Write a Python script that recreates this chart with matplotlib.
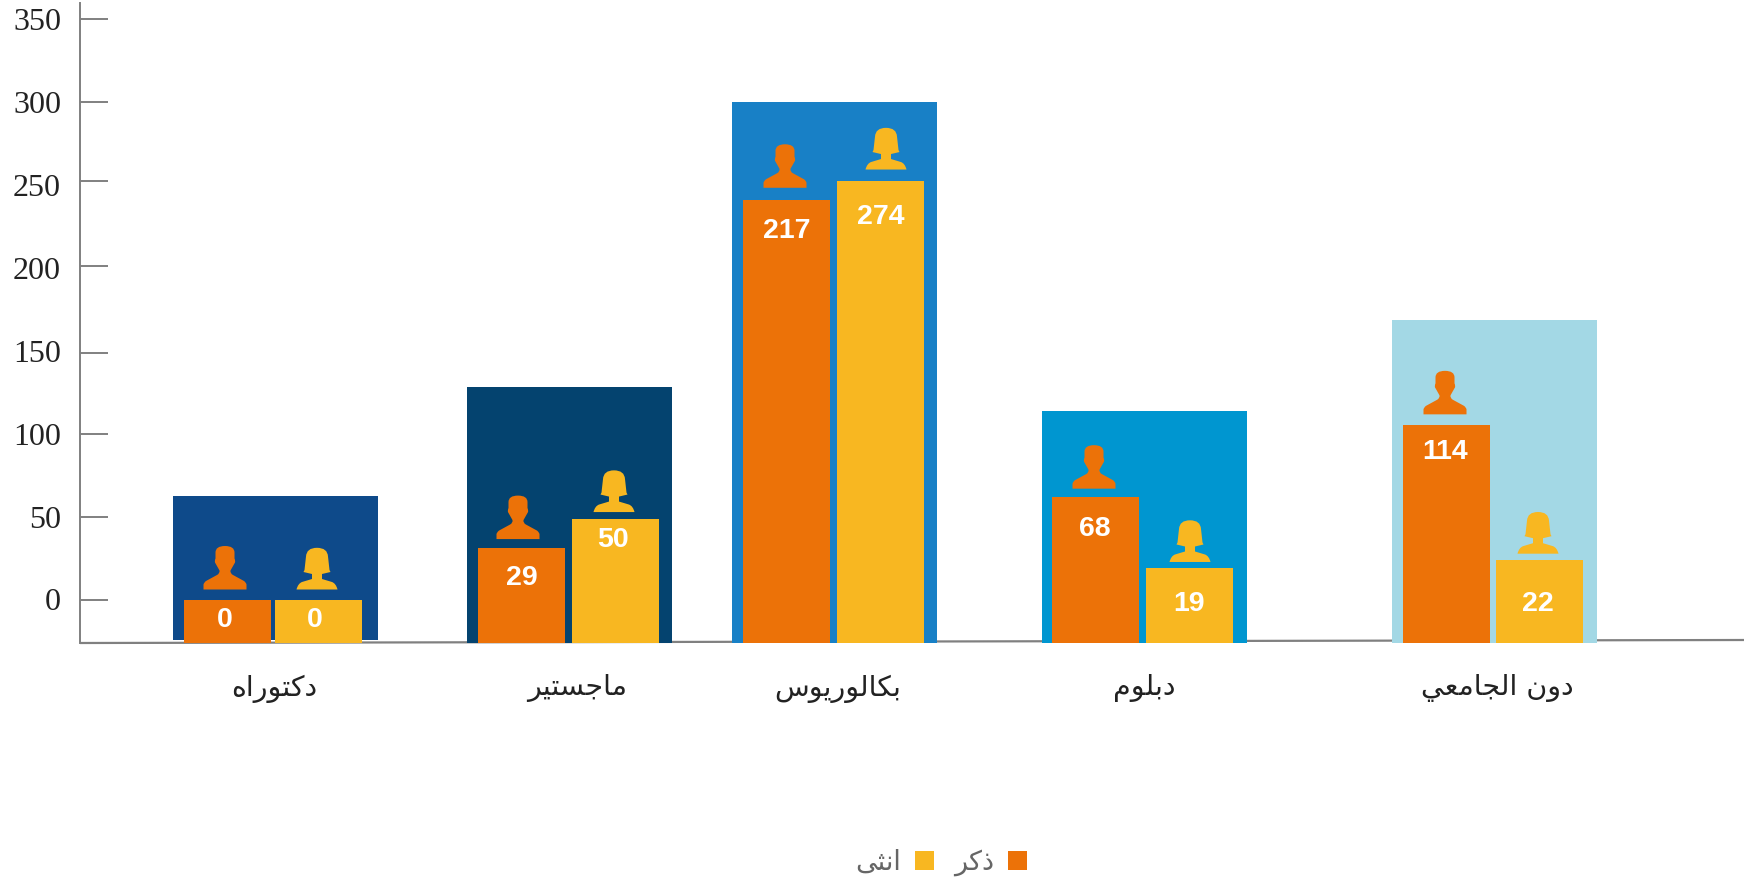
import matplotlib
matplotlib.use("Agg")
import matplotlib.pyplot as plt
from matplotlib.path import Path
from matplotlib.patches import PathPatch

# ---------- data ----------
categories = ["دكتوراه", "ماجستير", "بكالوريوس", "دبلوم", "دون الجامعي"]
totals = [62.5, 128, 300, 113.5, 168.5]     # background bars, read on the axis
male_heights = [0, 31, 241, 62, 105]        # orange bars, read on the axis
female_heights = [0, 48.5, 252.6, 19, 24]   # yellow bars, read on the axis
male_labels = ["0", "29", "217", "68", "114"]
female_labels = ["0", "50", "274", "19", "22"]
tick_labels = ["0", "50", "100", "150", "200", "250", "300", "350"]
tick_label_values = [0, 50, 100, 150, 200, 250, 300, 350]
series_names = ["ذكر", "انثى"]

# ---------- layout ----------
W, H = 1744, 881
PX = 1.6586                       # pixels per axis unit
Y0_PX = 599.5                     # pixel row of value 0
BASE_PX = 642.5
TOP_PX = 3


def val(py):
    return (Y0_PX - py) / PX


bg_left = [173, 467, 732, 1042, 1392]
bg_width = 205
bg_bottom_px = [640, 642.5, 642.5, 642.5, 642.5]
male_left = [184, 478, 743, 1052, 1403]
female_left = [275, 572, 837, 1146, 1496]
bar_width = 87
tick_marks = [0, 49.5, 99.5, 148.5, 201, 252.5, 300, 350]
cat_x = [274, 577, 838, 1144, 1497]
male_val_y = [620, 578, 231, 529, 452]
female_val_y = [620, 540, 217, 604, 604]
male_lab_x = [225, 522, 787, 1095, 1445]
female_lab_x = [315, 613, 881, 1189, 1538]
male_icon_x = [225, 518, 785, 1094, 1445]
female_icon_x = [317, 614, 886, 1190, 1538]
male_icon_gap = [10, 9, 12, 8, 11]
female_icon_gap = [10, 7, 11, 6, 6]

COL_BG = ["#0E4A8A", "#04436F", "#1880C6", "#0096D0", "#A3D8E5"]
COL_M = "#EC7208"
COL_F = "#F8B721"
COL_AXIS = "#808080"

# ---------- Arabic shaping (matplotlib has no bidi / joining) ----------
FORMS = {
    "ا": (0xFE8D, 0xFE8E), "ب": (0xFE8F, 0xFE90, 0xFE91, 0xFE92),
    "ت": (0xFE95, 0xFE96, 0xFE97, 0xFE98), "ث": (0xFE99, 0xFE9A, 0xFE9B, 0xFE9C),
    "ج": (0xFE9D, 0xFE9E, 0xFE9F, 0xFEA0), "د": (0xFEA9, 0xFEAA),
    "ذ": (0xFEAB, 0xFEAC), "ر": (0xFEAD, 0xFEAE),
    "س": (0xFEB1, 0xFEB2, 0xFEB3, 0xFEB4), "ع": (0xFEC9, 0xFECA, 0xFECB, 0xFECC),
    "ك": (0xFED9, 0xFEDA, 0xFEDB, 0xFEDC), "ل": (0xFEDD, 0xFEDE, 0xFEDF, 0xFEE0),
    "م": (0xFEE1, 0xFEE2, 0xFEE3, 0xFEE4), "ن": (0xFEE5, 0xFEE6, 0xFEE7, 0xFEE8),
    "ه": (0xFEE9, 0xFEEA, 0xFEEB, 0xFEEC), "و": (0xFEED, 0xFEEE),
    "ى": (0xFEEF, 0xFEF0), "ي": (0xFEF1, 0xFEF2, 0xFEF3, 0xFEF4),
}


def shape(text):
    out = []
    for i, ch in enumerate(text):
        f = FORMS.get(ch)
        if f is None:
            out.append(ch)
            continue
        prev = FORMS.get(text[i - 1]) if i > 0 else None
        nxt = FORMS.get(text[i + 1]) if i + 1 < len(text) else None
        join_prev = prev is not None and len(prev) == 4
        join_next = nxt is not None and len(f) == 4
        if join_prev and join_next:
            idx = 3
        elif join_prev:
            idx = 1
        elif join_next:
            idx = 2
        else:
            idx = 0
        out.append(chr(f[idx]))
    return "".join(reversed(out))


# ---------- icons: (dx px, dy px) from bottom centre ----------
M, L, C = Path.MOVETO, Path.LINETO, Path.CURVE3
MALE = [((-21.5, 0), M), ((-21.5, 5), L), ((-21, 7), C), ((-19, 8.5), C), ((-8, 14.5), L),
        ((-5, 16), C), ((-5.5, 19), C), ((-10, 27), L), ((-10.5, 29), C), ((-9.5, 31), C),
        ((-9.5, 37), L), ((-9.5, 43.5), C), ((0, 43.5), C), ((9.5, 43.5), C), ((9.5, 37), C),
        ((9.5, 31), L), ((10.5, 29), C), ((10, 27), C), ((5.5, 19), L), ((5, 16), C),
        ((8, 14.5), C), ((19, 8.5), L), ((21, 7), C), ((21.5, 5), C), ((21.5, 0), L),
        ((-21.5, 0), Path.CLOSEPOLY)]
FEMALE = [((-20.5, 0), M), ((-19, 6), C), ((-15, 7.5), C), ((-5, 10.5), L), ((-5, 15.5), L),
          ((-13.5, 17.5), L), ((-12.5, 19.5), L), ((-11, 33), L), ((-10.5, 41.7), C),
          ((0, 41.7), C), ((10.5, 41.7), C), ((11, 33), C), ((12.5, 19.5), L),
          ((13.5, 17.5), L), ((5, 15.5), L), ((5, 10.5), L), ((15, 7.5), L), ((19, 6), C),
          ((20.5, 0), C), ((-20.5, 0), Path.CLOSEPOLY)]


def icon(ax, shape_def, cx, bottom, color):
    verts = [(cx + p[0], bottom + p[1] / PX) for p, _ in shape_def]
    codes = [c for _, c in shape_def]
    ax.add_patch(PathPatch(Path(verts, codes), facecolor=color, edgecolor="none", zorder=5))


# ---------- figure ----------
fig = plt.figure(figsize=(W / 100, H / 100), dpi=100, facecolor="white")
ax = fig.add_axes([80 / W, (H - BASE_PX) / H, (W - 80) / W, (BASE_PX - TOP_PX) / H])
ax.set_xlim(80, W)
ylow = val(BASE_PX)
ax.set_ylim(ylow, val(TOP_PX))

for spine in ("top", "right", "bottom"):
    ax.spines[spine].set_visible(False)
ax.spines["left"].set_color(COL_AXIS)
ax.spines["left"].set_linewidth(1.4)

# sloped baseline
ax.plot([80, W], [val(643), val(640)], color=COL_AXIS, lw=1.6, clip_on=False, zorder=1,
        solid_capstyle="butt")

bg_bottoms = [val(p) for p in bg_bottom_px]
ax.bar(bg_left, [t - b for t, b in zip(totals, bg_bottoms)], bg_width, bottom=bg_bottoms,
       align="edge", color=COL_BG, zorder=2)
h_m = ax.bar(male_left, [v - ylow for v in male_heights], bar_width, bottom=ylow,
             align="edge", color=COL_M, zorder=3, label=shape(series_names[0]))
h_f = ax.bar(female_left, [v - ylow for v in female_heights], bar_width, bottom=ylow,
             align="edge", color=COL_F, zorder=3, label=shape(series_names[1]))

for i in range(len(categories)):
    icon(ax, MALE, male_icon_x[i], male_heights[i] + male_icon_gap[i] / PX, COL_M)
    icon(ax, FEMALE, female_icon_x[i], female_heights[i] + female_icon_gap[i] / PX, COL_F)
    ax.text(male_lab_x[i], val(male_val_y[i]), male_labels[i], color="white", ha="center",
            va="center", family="Liberation Sans", weight="bold", fontsize=20.5, zorder=6)
    ax.text(female_lab_x[i], val(female_val_y[i]), female_labels[i], color="white", ha="center",
            va="center", family="Liberation Sans", weight="bold", fontsize=20.5, zorder=6)

# y axis: regular labels, tick marks slightly irregular as in the artwork
ax.yaxis.remove_overlapping_locs = False
ax.set_yticks(tick_label_values, tick_labels, family="Liberation Serif", fontsize=23,
              color="#222222")
ax.tick_params(axis="y", which="major", length=0, pad=13.6)
ax.set_yticks(tick_marks, minor=True)
ax.tick_params(axis="y", which="minor", direction="in", length=20.5, width=1.4,
               color=COL_AXIS)

# x axis labels
ax.set_xticks(cat_x, [shape(c) for c in categories], family="DejaVu Sans", fontsize=20.5,
              color="#222222")
ax.tick_params(axis="x", length=0, pad=23)

leg = ax.legend(handles=[h_f, h_m], loc="center", bbox_to_anchor=(941 / W, 1 - 863 / H),
                bbox_transform=fig.transFigure, ncols=2, frameon=False, markerfirst=False,
                handlelength=0.7, handleheight=0.7, handletextpad=0.5, columnspacing=0.75,
                labelcolor="#666666", prop={"family": "DejaVu Sans", "size": 19.5})

fig.savefig("out.png", dpi=100, facecolor="white")
